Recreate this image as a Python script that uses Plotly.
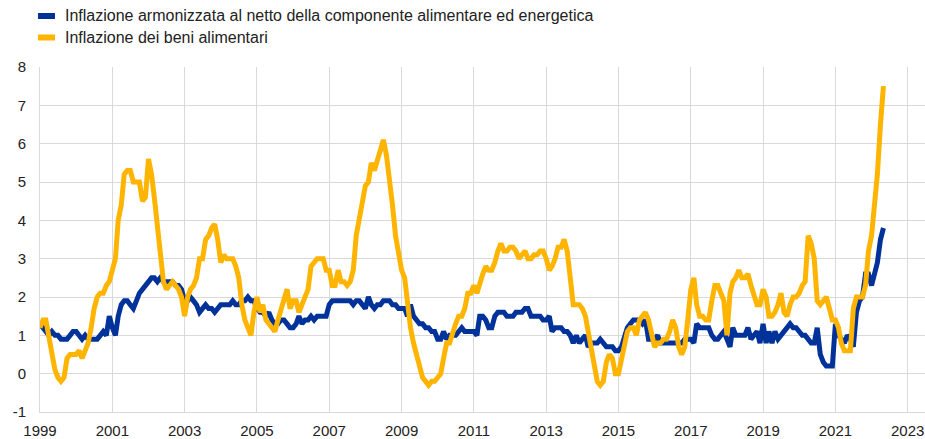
import pandas as pd
import plotly.graph_objects as go

# Monthly year-on-year rates (%), January 1999 - May 2022
core_hicp = [
    # 1999
    1.3, 1.2, 1.1, 1.0, 1.1, 1.0, 1.0, 0.9, 0.9, 0.9, 1.0, 1.1,
    # 2000
    1.1, 1.0, 0.9, 1.0, 0.9, 0.9, 0.9, 0.9, 1.0, 1.1, 1.0, 1.5,
    # 2001
    1.2, 1.0, 1.5, 1.8, 1.9, 1.9, 1.8, 1.7, 1.9, 2.1, 2.2, 2.3,
    # 2002
    2.4, 2.5, 2.5, 2.4, 2.5, 2.4, 2.4, 2.4, 2.4, 2.3, 2.3, 2.2,
    # 2003
    1.9, 1.9, 2.0, 1.9, 1.8, 1.6, 1.7, 1.8, 1.7, 1.7, 1.6, 1.7,
    # 2004
    1.8, 1.8, 1.8, 1.8, 1.9, 1.8, 1.8, 1.9, 1.9, 2.0, 1.9, 1.9,
    # 2005
    1.7, 1.6, 1.6, 1.5, 1.6, 1.4, 1.3, 1.3, 1.4, 1.4, 1.3, 1.2,
    # 2006
    1.2, 1.3, 1.5, 1.3, 1.4, 1.4, 1.5, 1.4, 1.5, 1.5, 1.5, 1.5,
    # 2007
    1.8, 1.9, 1.9, 1.9, 1.9, 1.9, 1.9, 1.9, 1.8, 1.9, 1.9, 1.8,
    # 2008
    1.7, 2.0, 1.8, 1.7, 1.8, 1.8, 1.9, 1.9, 1.9, 1.8, 1.8, 1.7,
    # 2009
    1.7, 1.7, 1.5, 1.8, 1.5, 1.4, 1.3, 1.3, 1.2, 1.2, 1.1, 1.1,
    # 2010
    0.9, 0.9, 1.1, 0.9, 1.0, 1.0, 1.0, 1.1, 1.2, 1.1, 1.1, 1.1,
    # 2011
    1.1, 1.0, 1.5, 1.5, 1.4, 1.2, 1.2, 1.5, 1.6, 1.6, 1.6, 1.5,
    # 2012
    1.5, 1.5, 1.6, 1.6, 1.6, 1.7, 1.7, 1.5, 1.5, 1.5, 1.5, 1.4,
    # 2013
    1.4, 1.5, 1.1, 1.2, 1.2, 1.2, 1.1, 1.1, 1.0, 0.8, 1.0, 0.8,
    # 2014
    0.9, 1.0, 0.7, 0.8, 0.8, 0.8, 0.9, 0.8, 0.7, 0.7, 0.7, 0.6,
    # 2015
    0.6, 0.7, 0.9, 1.2, 1.3, 1.4, 1.4, 1.4, 1.3, 1.4, 0.9, 0.9,
    # 2016
    0.9, 1.0, 0.8, 0.8, 0.8, 0.8, 0.8, 0.8, 0.8, 0.8, 0.9, 0.9,
    # 2017
    0.9, 0.8, 1.3, 1.2, 1.2, 1.2, 1.2, 1.0, 0.9, 0.9, 1.0, 1.1,
    # 2018
    0.9, 0.7, 1.2, 1.0, 1.0, 1.0, 1.0, 1.2, 0.9, 1.0, 1.1, 0.8,
    # 2019
    1.3, 0.8, 1.1, 0.8, 1.1, 0.9, 1.0, 1.1, 1.2, 1.3, 1.2, 1.2,
    # 2020
    1.1, 1.0, 1.0, 0.9, 0.8, 0.8, 1.2, 0.5, 0.3, 0.2, 0.2, 0.2,
    # 2021
    1.3, 1.0, 0.9, 0.8, 1.0, 0.9, 0.7, 1.6, 1.9, 2.0, 2.6, 2.6,
    # 2022
    2.3, 2.7, 2.9, 3.5, 3.8,
]

food = [
    # 1999
    1.2, 1.4, 1.4, 1.0, 0.5, 0.1, -0.1, -0.2, -0.1, 0.4, 0.5, 0.5,
    # 2000
    0.5, 0.6, 0.4, 0.6, 0.8, 1.2, 1.7, 2.0, 2.1, 2.1, 2.3, 2.4,
    # 2001
    2.7, 3.0, 4.0, 4.4, 5.2, 5.3, 5.3, 5.0, 5.0, 5.0, 4.5, 4.6,
    # 2002
    5.6, 5.2, 4.6, 3.9, 3.2, 2.4, 2.2, 2.3, 2.4, 2.3, 2.2, 2.0,
    # 2003
    1.5, 2.0, 2.2, 2.3, 2.5, 3.0, 3.0, 3.5, 3.6, 3.8, 3.9, 3.5,
    # 2004
    2.9, 3.1, 3.0, 3.0, 3.0, 2.8, 2.5, 1.8, 1.4, 1.2, 1.0, 1.6,
    # 2005
    2.0, 1.6, 1.8, 1.4, 1.3, 1.2, 1.1, 1.4, 1.7, 1.9, 2.2, 1.7,
    # 2006
    1.9, 1.9, 1.6, 1.8, 2.0, 2.2, 2.8, 2.9, 3.0, 3.0, 3.0, 2.7,
    # 2007
    2.7, 2.3, 2.3, 2.7, 2.4, 2.4, 2.3, 2.4, 2.7, 3.6, 4.1, 4.5,
    # 2008
    4.9, 5.0, 5.5, 5.3, 5.6, 5.8, 6.1, 5.7, 5.1, 4.4, 3.6, 3.1,
    # 2009
    2.7, 2.5, 1.8, 1.2, 0.8, 0.5, 0.1, -0.1, -0.2, -0.3, -0.2, -0.2,
    # 2010
    -0.1, 0.0, 0.4, 0.8, 0.8, 1.1, 1.3, 1.5, 1.5, 1.7, 2.1, 2.1,
    # 2011
    2.3, 2.1, 2.4, 2.6, 2.8, 2.7, 2.7, 2.9, 3.2, 3.4, 3.2, 3.2,
    # 2012
    3.3, 3.3, 3.2, 3.0, 3.1, 3.2, 3.0, 3.0, 3.1, 3.1, 3.2, 3.2,
    # 2013
    3.0, 2.7, 2.8, 3.0, 3.3, 3.3, 3.5, 3.2, 2.5, 1.8, 1.8, 1.8,
    # 2014
    1.7, 1.5, 1.1, 0.6, 0.1, -0.2, -0.3, -0.2, 0.3, 0.5, 0.4, 0.0,
    # 2015
    0.0, 0.4, 0.8, 1.1, 1.2, 1.2, 1.0, 1.4, 1.5, 1.6, 1.4, 1.0,
    # 2016
    0.7, 0.8, 0.8, 0.9, 0.9, 1.1, 1.4, 1.2, 0.7, 0.5, 0.7, 1.4,
    # 2017
    2.2, 2.5, 1.8, 1.5, 1.5, 1.4, 1.4, 1.9, 2.3, 2.3, 2.1, 1.9,
    # 2018
    1.0, 2.1, 2.4, 2.5, 2.7, 2.5, 2.5, 2.6, 2.3, 2.0, 1.8, 1.8,
    # 2019
    2.2, 2.0, 1.5, 1.5, 1.6, 1.8, 2.1, 1.6, 1.5, 1.8, 2.0, 2.0,
    # 2020
    2.1, 2.3, 2.4, 3.6, 3.4, 3.0, 1.9, 1.8, 1.9, 2.0, 1.7, 1.4,
    # 2021
    1.4, 1.2, 0.8, 0.6, 0.6, 0.6, 1.7, 2.0, 2.0, 2.0, 2.3, 3.2,
    # 2022
    3.6, 4.3, 5.2, 6.5, 7.5,
]

series_names = [
    "Inflazione armonizzata al netto della componente alimentare ed energetica",
    "Inflazione dei beni alimentari",
]
series_colors = ["#003299", "#FFB400"]

# y-axis ticks, labelled with a plain hyphen for negatives
y_tick_values = [-1, 0, 1, 2, 3, 4, 5, 6, 7, 8]
y_tick_labels = ["-1", "0", "1", "2", "3", "4", "5", "6", "7", "8"]

months = pd.date_range("1999-01-01", periods=len(core_hicp), freq="MS")

FONT = "Liberation Sans, Arial, sans-serif"
TEXT = "#222222"
GRID = "#d9d9d9"

fig = go.Figure()
for vals, name, color in zip([core_hicp, food], series_names, series_colors):
    fig.add_trace(go.Scatter(
        x=months, y=vals, mode="lines", name=name,
        line=dict(color=color, width=5),
        showlegend=False,
    ))

# Legend drawn as colour keys with text beside them
W, H = 925, 439
ML, MR, MT, MB = 40, 0, 67, 27
pw, ph = W - ML - MR, H - MT - MB


def px_x(x):
    return (x - ML) / pw


def px_y(y):
    return (H - MB - y) / ph


for i, (name, color) in enumerate(zip(series_names, series_colors)):
    yc = 16 + i * 21.5
    fig.add_shape(type="rect", xref="paper", yref="paper",
                  x0=px_x(38), x1=px_x(55), y0=px_y(yc + 3), y1=px_y(yc - 3),
                  fillcolor=color, line=dict(width=0))
    fig.add_annotation(xref="paper", yref="paper", x=px_x(63), y=px_y(yc),
                       xanchor="left", yanchor="middle", showarrow=False,
                       text=name, font=dict(family=FONT, size=16, color=TEXT))

fig.update_layout(
    width=W, height=H,
    margin=dict(l=ML, r=MR, t=MT, b=MB),
    paper_bgcolor="white", plot_bgcolor="white",
    font=dict(family=FONT, size=15, color=TEXT),
)
fig.update_xaxes(
    type="date",
    range=["1999-01-01", "2023-06-25"],
    tick0="1999-01-01", dtick="M24", tickformat="%Y",
    showgrid=True, gridcolor=GRID, gridwidth=1,
    showline=True, linecolor=GRID, linewidth=1,
    ticks="", ticklabelstandoff=5,
    tickfont=dict(family=FONT, size=15, color=TEXT),
)
fig.update_yaxes(
    range=[-1, 8],
    tickmode="array", tickvals=y_tick_values, ticktext=y_tick_labels,
    showgrid=True, gridcolor=GRID, gridwidth=1,
    zeroline=False,
    showline=True, linecolor=GRID, linewidth=1,
    ticks="", ticklabelstandoff=10,
    tickfont=dict(family=FONT, size=15, color=TEXT),
)

fig.write_html("out.html")
